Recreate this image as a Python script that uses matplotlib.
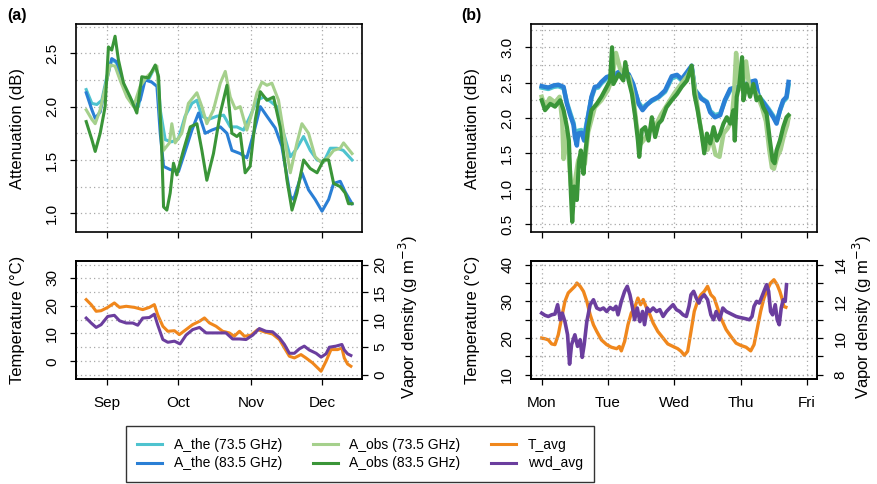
import matplotlib.pyplot as plt
from matplotlib.ticker import MultipleLocator, FixedLocator, FuncFormatter

plt.rcParams['font.family'] = ['Liberation Sans', 'DejaVu Sans']

# ---- panel (a): x = days since 1 Sep ----
month_ticks = [0, 30, 61, 91]
month_labels = ['Sep', 'Oct', 'Nov', 'Dec']

a_the735_day = [-8.7, -6.3, -4.2, -2.1, 0, 2.1, 4.2, 6.3, 8.5, 11.3, 13.4, 15.5, 17.6, 20.5, 21.6,
                22.6, 24.7, 27.5, 30.3, 33.1, 36, 38.1, 40.2, 43, 46.5, 49.4, 52.2, 55, 57.8, 60.6,
                63.5, 66.3, 69.1, 71.9, 74.8, 77.6, 80.4, 83.2, 86, 88.9, 91.7, 94.5, 97.3, 100, 103.7]
a_the735 = [2.16, 2.03, 2.02, 2.06, 2.28, 2.44, 2.41, 2.25, 2.13, 2.03, 2.0, 2.25, 2.25, 2.38, 2.30,
            1.97, 1.69, 1.67, 1.70, 1.91, 2.03, 2.06, 1.91, 1.88, 1.91, 1.92, 1.81, 1.81, 1.78, 1.91,
            2.06, 2.09, 2.05, 2.0, 1.75, 1.53, 1.61, 1.72, 1.59, 1.50, 1.48, 1.61, 1.61, 1.59, 1.50]

a_the835_day = [-8.7, -6.3, -4.9, -2.8, 0, 2.1, 4.2, 6.3, 9.2, 12, 14.1, 16.2, 19, 21.2, 22.6,
                24, 26.8, 30.3, 33.1, 36, 38.8, 41.6, 44.4, 48, 50.8, 52.9, 56.4, 59.2, 62.1, 64.9,
                67.7, 71.2, 74, 77.6, 79, 82.5, 85.3, 88.1, 91, 93.8, 95.9, 98.7, 100.8, 103.7]
a_the835 = [2.13, 1.97, 1.89, 1.95, 2.25, 2.45, 2.42, 2.23, 2.09, 2.0, 2.06, 2.25, 2.23, 2.19, 1.75,
            1.44, 1.41, 1.39, 1.58, 1.78, 1.94, 1.75, 1.78, 1.81, 1.75, 1.59, 1.56, 1.52, 1.75, 2.0,
            1.91, 1.80, 1.63, 1.16, 1.13, 1.38, 1.22, 1.13, 1.02, 1.13, 1.28, 1.30, 1.20, 1.09]

a_obs735_day = [-8.7, -6.3, -4.9, -2.8, 0, 1.4, 3.5, 5.6, 8.5, 11.3, 14.1, 16.9, 19.7, 21.2, 22.6,
                24, 25.4, 26.5, 27.5, 28.9, 31.7, 34.5, 38.1, 40.2, 42.3, 45.1, 48, 50.1, 52.2, 54.3,
                56.4, 59.2, 61.4, 63.5, 65.6, 67.7, 69.8, 72.6, 74.8, 77.6, 80.4, 82.5, 85.3, 88.1, 91,
                93.8, 95.9, 98.7, 100.1, 103.7]
a_obs735 = [1.97, 1.88, 1.84, 1.97, 2.25, 2.39, 2.38, 2.25, 2.09, 2.0, 2.19, 2.28, 2.34, 2.38, 1.91,
            1.59, 1.63, 1.66, 1.84, 1.66, 1.75, 2.03, 2.13, 2.0, 1.84, 1.97, 2.22, 2.33, 2.09, 1.98,
            2.0, 1.78, 1.94, 2.13, 2.23, 2.20, 2.22, 2.06, 1.75, 1.38, 1.66, 1.84, 1.75, 1.53, 1.47,
            1.53, 1.59, 1.61, 1.66, 1.56]

a_obs835_day = [-8.7, -6.3, -4.9, -2.8, -0.7, 0.7, 2.1, 3.5, 4.9, 7.1, 9.9, 12.7, 14.8, 17.6, 20.5,
                21.9, 23.3, 24, 25.4, 26.8, 28.2, 29.6, 32.4, 35.3, 38.1, 40.2, 42.3, 45.1, 48, 50.8,
                52.9, 55, 56.4, 58.5, 60.6, 62.8, 64.9, 67.7, 70.5, 73.3, 76.2, 78.3, 80.4, 83.2, 86,
                88.9, 91.7, 93.8, 95.9, 98.7, 100.8, 102.2, 103.7]
a_obs835 = [1.86, 1.69, 1.58, 1.75, 2.0, 2.56, 2.53, 2.66, 2.44, 2.22, 2.09, 1.94, 2.28, 2.27, 2.39,
            2.28, 1.56, 1.06, 1.03, 1.19, 1.47, 1.36, 1.59, 1.81, 1.84, 1.59, 1.31, 1.56, 1.94, 2.20,
            1.75, 1.72, 1.75, 1.38, 1.44, 1.88, 2.14, 2.06, 2.09, 1.81, 1.31, 1.03, 1.19, 1.50, 1.42,
            1.38, 1.50, 1.50, 1.28, 1.25, 1.19, 1.09, 1.09]

a_t_day = [-8.7, -6.6, -4.5, -2.4, 0.4, 3.2, 5.4, 8.2, 11.7, 15.2, 18, 20.1, 21.5, 23.7, 25.8,
           28.6, 30.7, 33.5, 36.3, 39.2, 41.3, 43.4, 46.2, 49, 51.8, 53.9, 56.1, 58.2, 61, 63.8,
           66.6, 70.1, 73, 75.1, 77.2, 79.3, 82.1, 84.2, 87, 90.6, 92.7, 94.8, 97.6, 99.4, 100.4,
           101.8, 103.2]
a_t_avg = [22.2, 20.4, 18.0, 18.2, 19.4, 21.0, 19.4, 19.8, 19.4, 18.6, 19.4, 20.4, 16.8, 12.6, 10.8,
           11.0, 9.6, 11.4, 13.2, 14.4, 15.6, 13.8, 12.6, 10.8, 10.2, 9.0, 10.8, 9.0, 9.4, 11.4,
           10.6, 9.8, 7.8, 4.8, 1.8, 1.2, 2.4, 1.2, -0.6, -3.6, 0.0, 4.2, 4.2, 4.8, 1.2,
           -1.0, -1.8]

a_wvd_day = [-8.7, -6.6, -4.5, -2.4, 0.4, 3.2, 5.4, 8.2, 11, 13.1, 15.2, 18, 20.1, 21.5, 23.7,
             25.8, 28.6, 31, 33.5, 36.3, 39.2, 42, 44.8, 47.6, 50.4, 53.2, 56.1, 58.9, 61.7, 64.5,
             67.3, 70.1, 73, 75.1, 77.2, 79.3, 81.4, 83.5, 85.6, 88.5, 90.6, 92.7, 94.1, 96.9, 99.4,
             100.4, 101.8, 103.2]
a_wvd_avg = [10.3, 9.4, 8.6, 9.1, 10.6, 10.8, 9.8, 9.4, 9.4, 9.0, 10.3, 10.4, 11.0, 9.1, 6.4,
             5.9, 6.1, 5.6, 7.2, 8.2, 8.6, 7.6, 7.6, 7.6, 7.6, 6.5, 6.5, 6.4, 7.2, 8.4,
             7.9, 7.8, 6.7, 5.5, 3.9, 3.9, 4.7, 5.2, 4.5, 3.9, 3.2, 3.8, 5.0, 5.2, 5.5,
             4.5, 3.8, 3.5]

# ---- panel (b): x = days since Monday 00:00 ----
weekday_ticks = [0, 1, 2, 3, 4]
weekday_labels = ['Mon', 'Tue', 'Wed', 'Thu', 'Fri']

b_the_day = [0, 0.1, 0.18, 0.25, 0.33, 0.38, 0.43, 0.48, 0.5, 0.53, 0.55, 0.6, 0.64, 0.69, 0.75,
             0.8, 0.85, 0.9, 0.98, 1.06, 1.16, 1.23, 1.31, 1.38, 1.46, 1.52, 1.58, 1.66, 1.76, 1.86,
             1.96, 2.04, 2.11, 2.19, 2.26, 2.31, 2.41, 2.49, 2.54, 2.61, 2.69, 2.76, 2.84, 2.91, 2.99,
             3.07, 3.14, 3.22, 3.27, 3.34, 3.42, 3.49, 3.54, 3.59, 3.64, 3.69, 3.72]
b_the835 = [2.45, 2.43, 2.46, 2.47, 2.44, 2.20, 2.04, 1.90, 1.73, 1.61, 1.78, 1.79, 1.68, 1.97, 2.30,
            2.44, 2.45, 2.51, 2.58, 2.60, 2.65, 2.60, 2.62, 2.48, 2.20, 2.11, 2.18, 2.25, 2.30, 2.39,
            2.59, 2.61, 2.55, 2.65, 2.74, 2.39, 2.27, 2.22, 2.08, 2.01, 2.04, 2.25, 2.41, 2.43, 2.45,
            2.48, 2.51, 2.53, 2.30, 2.22, 2.11, 2.01, 1.92, 2.11, 2.25, 2.30, 2.51]
b_the735 = [2.43, 2.41, 2.44, 2.45, 2.42, 2.22, 2.07, 1.93, 1.80, 1.70, 1.82, 1.83, 1.74, 1.99, 2.28,
            2.42, 2.43, 2.49, 2.56, 2.58, 2.62, 2.58, 2.60, 2.46, 2.22, 2.14, 2.19, 2.24, 2.29, 2.37,
            2.56, 2.59, 2.53, 2.63, 2.72, 2.40, 2.28, 2.23, 2.10, 2.04, 2.06, 2.24, 2.39, 2.41, 2.43,
            2.46, 2.49, 2.51, 2.31, 2.23, 2.13, 2.03, 1.95, 2.10, 2.23, 2.28, 2.46]

b_obs835_day = [0, 0.05, 0.13, 0.2, 0.28, 0.33, 0.38, 0.41, 0.44, 0.46, 0.49, 0.53, 0.56, 0.59, 0.63,
                0.65, 0.7, 0.75, 0.83, 0.9, 0.98, 1.03, 1.06, 1.08, 1.16, 1.23, 1.26, 1.31, 1.36, 1.41,
                1.45, 1.47, 1.51, 1.56, 1.61, 1.66, 1.71, 1.76, 1.81, 1.88, 1.96, 2.04, 2.11, 2.19, 2.26,
                2.3, 2.35, 2.41, 2.45, 2.49, 2.54, 2.59, 2.64, 2.69, 2.74, 2.79, 2.84, 2.89, 2.91, 2.94,
                2.98, 3.02, 3.04, 3.09, 3.14, 3.19, 3.24, 3.29, 3.34, 3.39, 3.44, 3.48, 3.51, 3.54, 3.59,
                3.64, 3.69, 3.72]
b_obs835 = [2.25, 2.11, 2.20, 2.16, 2.25, 2.11, 1.87, 1.68, 0.93, 0.53, 1.03, 0.84, 1.36, 1.54, 1.21,
            1.45, 1.87, 2.11, 2.20, 2.30, 2.44, 2.53, 3.0, 2.48, 2.62, 2.53, 2.79, 2.53, 2.34, 2.01,
            1.68, 1.45, 1.83, 1.87, 1.68, 2.01, 1.73, 1.92, 1.97, 2.15, 2.25, 2.34, 2.44, 2.53, 2.74,
            2.34, 2.11, 1.78, 1.50, 1.78, 1.64, 1.87, 1.68, 1.78, 1.92, 2.01, 1.92, 2.11, 1.68, 2.30,
            2.48, 2.86, 2.25, 2.48, 2.30, 2.48, 2.25, 2.30, 2.15, 2.06, 1.68, 1.40, 1.36, 1.54, 1.68,
            1.87, 2.01, 2.04]

b_obs735_day = [0, 0.05, 0.12, 0.2, 0.27, 0.31, 0.33, 0.36, 0.4, 0.44, 0.46, 0.5, 0.55, 0.6, 0.65,
                0.7, 0.8, 0.9, 1.0, 1.06, 1.12, 1.18, 1.25, 1.32, 1.38, 1.43, 1.48, 1.55, 1.6, 1.66,
                1.72, 1.8, 1.9, 2.0, 2.1, 2.2, 2.26, 2.32, 2.38, 2.44, 2.5, 2.56, 2.62, 2.68, 2.74,
                2.8, 2.86, 2.9, 2.93, 2.97, 3.02, 3.08, 3.14, 3.2, 3.26, 3.32, 3.38, 3.43, 3.47, 3.5,
                3.55, 3.6, 3.65, 3.7, 3.72]
b_obs735 = [2.30, 2.15, 2.28, 2.22, 2.30, 1.95, 1.42, 1.80, 1.55, 1.05, 0.95, 1.10, 1.40, 1.50, 1.35,
            1.80, 2.15, 2.25, 2.40, 2.55, 2.92, 2.70, 2.62, 2.58, 2.30, 1.90, 1.62, 1.70, 1.78, 1.85,
            1.90, 2.05, 2.20, 2.35, 2.48, 2.60, 2.70, 2.35, 1.95, 1.62, 1.55, 1.72, 1.48, 1.45, 1.78,
            1.85, 1.95, 2.35, 2.92, 2.50, 2.40, 2.80, 2.35, 2.40, 2.30, 2.15, 1.95, 1.55, 1.30, 1.28,
            1.45, 1.55, 1.75, 1.90, 2.0]

b_t_day = [0, 0.05, 0.1, 0.15, 0.2, 0.25, 0.3, 0.35, 0.4, 0.45, 0.5, 0.53, 0.58, 0.63, 0.68,
           0.73, 0.78, 0.83, 0.9, 0.98, 1.05, 1.13, 1.17, 1.2, 1.25, 1.3, 1.35, 1.4, 1.45, 1.49,
           1.53, 1.58, 1.63, 1.68, 1.75, 1.83, 1.9, 1.98, 2.05, 2.1, 2.15, 2.2, 2.25, 2.3, 2.35,
           2.4, 2.45, 2.5, 2.55, 2.6, 2.65, 2.7, 2.78, 2.85, 2.93, 3.0, 3.08, 3.15, 3.2, 3.25,
           3.3, 3.35, 3.4, 3.45, 3.5, 3.55, 3.59, 3.62, 3.65, 3.68]
b_t_avg = [20.0, 19.8, 19.5, 18.4, 18.2, 20.9, 25.5, 30.0, 32.3, 33.2, 34.1, 35.0, 34.1, 32.7, 30.0,
           26.4, 23.6, 21.8, 19.5, 18.2, 17.5, 17.1, 17.7, 16.5, 19.1, 23.6, 26.8, 28.2, 30.9, 29.1,
           30.5, 28.2, 26.4, 24.1, 21.8, 20.0, 18.4, 17.7, 17.1, 16.4, 15.3, 16.4, 21.8, 27.3, 30.0,
           31.8, 32.7, 34.1, 31.8, 30.9, 28.2, 25.5, 22.3, 20.5, 18.6, 18.0, 17.5, 16.5, 18.2, 22.7,
           27.3, 30.9, 33.2, 35.0, 35.9, 34.5, 32.7, 30.9, 28.6, 28.4]

b_wvd_day = [0, 0.05, 0.1, 0.15, 0.2, 0.24, 0.28, 0.31, 0.35, 0.39, 0.42, 0.45, 0.5, 0.54, 0.58,
             0.61, 0.64, 0.68, 0.73, 0.78, 0.83, 0.88, 0.93, 0.98, 1.03, 1.08, 1.12, 1.15, 1.2, 1.25,
             1.29, 1.33, 1.37, 1.4, 1.44, 1.48, 1.52, 1.55, 1.59, 1.63, 1.68, 1.73, 1.78, 1.83, 1.88,
             1.93, 1.98, 2.03, 2.08, 2.13, 2.18, 2.22, 2.25, 2.29, 2.33, 2.37, 2.4, 2.45, 2.5, 2.55,
             2.59, 2.63, 2.68, 2.73, 2.78, 2.83, 2.88, 2.93, 2.98, 3.03, 3.08, 3.13, 3.17, 3.2, 3.24,
             3.28, 3.32, 3.35, 3.39, 3.42, 3.45, 3.48, 3.52, 3.55, 3.58, 3.61, 3.64, 3.67, 3.69]
b_wvd_avg = [11.36, 11.24, 11.18, 11.27, 11.31, 11.82, 11.0, 11.36, 10.9, 10.18, 8.58, 9.64, 10.18, 9.55, 9.91,
             8.95, 9.64, 10.9, 11.82, 12.09, 11.64, 11.55, 11.64, 11.45, 11.67, 11.55, 11.73, 11.27, 12.0, 12.55,
             12.82, 12.36, 11.64, 11.0, 11.64, 10.9, 11.45, 10.73, 11.64, 11.45, 11.64, 11.45, 11.55, 11.18, 11.45,
             11.64, 11.82, 11.55, 11.45, 11.27, 11.18, 11.73, 12.36, 12.55, 12.18, 11.91, 12.18, 12.36, 12.09, 11.27,
             11.0, 11.45, 11.0, 11.64, 11.45, 11.36, 11.27, 11.18, 11.13, 11.09, 11.05, 11.0, 11.18, 11.73, 12.0,
             11.91, 12.27, 12.55, 12.91, 12.55, 11.45, 11.27, 11.82, 11.0, 10.73, 11.64, 12.09, 12.0, 12.91]

c_the735 = '#4ec3cf'
c_the835 = '#2a7fd5'
c_obs735 = '#a5d08c'
c_obs835 = '#3a9538'
c_t = '#f0871c'
c_wvd = '#6b3e9e'

grid_kw = dict(linestyle=(0, (1, 2.5)), color='#a8a8a8', linewidth=0.9)


def style_axes(ax):
    for s in ax.spines.values():
        s.set_linewidth(1.2)
    ax.tick_params(direction='out', length=4, width=0.9, labelsize=11, pad=8)


fig = plt.figure(figsize=(8.78, 4.84), dpi=100)

ax_at = fig.add_axes([0.0866, 0.5207, 0.3257, 0.4298])
ax_ab = fig.add_axes([0.0866, 0.2169, 0.3257, 0.2438])
ax_bt = fig.add_axes([0.6048, 0.5207, 0.3257, 0.4298])
ax_bb = fig.add_axes([0.6048, 0.2169, 0.3257, 0.2438])

# (a) attenuation
ax_at.plot(a_the735_day, a_the735, color=c_the735, lw=2.2)
ax_at.plot(a_the835_day, a_the835, color=c_the835, lw=2.2)
ax_at.plot(a_obs735_day, a_obs735, color=c_obs735, lw=2.2)
ax_at.plot(a_obs835_day, a_obs835, color=c_obs835, lw=2.2)
ax_at.set_xlim(-13.0, 107.9)
ax_at.set_ylim(0.825, 2.775)
ax_at.yaxis.set_major_locator(MultipleLocator(0.5))
ax_at.yaxis.set_minor_locator(MultipleLocator(0.25))
ax_at.xaxis.set_major_locator(FixedLocator(month_ticks))
ax_at.set_xticklabels([])

# (b) attenuation
ax_bt.plot(b_the_day, b_the735, color=c_the735, lw=3.2)
ax_bt.plot(b_the_day, b_the835, color=c_the835, lw=3.2)
ax_bt.plot(b_obs735_day, b_obs735, color=c_obs735, lw=3.2)
ax_bt.plot(b_obs835_day, b_obs835, color=c_obs835, lw=3.0)
ax_bt.set_xlim(-0.161, 4.149)
ax_bt.set_ylim(0.387, 3.33)
ax_bt.yaxis.set_major_locator(MultipleLocator(0.5))
ax_bt.yaxis.set_minor_locator(MultipleLocator(0.25))
ax_bt.xaxis.set_major_locator(FixedLocator(weekday_ticks))
ax_bt.set_xticklabels([])

for ax in (ax_at, ax_bt):
    style_axes(ax)
    ax.tick_params(which='minor', length=0)
    ax.grid(True, which='both', **grid_kw)
    ax.set_axisbelow(True)

# (a) temperature / vapour
ax_ab.plot(a_t_day, a_t_avg, color=c_t, lw=2.2)
ax_ab.set_xlim(-13.0, 107.9)
ax_ab.set_ylim(-6.4, 36.1)
ax_ab.yaxis.set_major_locator(FixedLocator([0, 10, 20, 30]))
ax_ab.xaxis.set_major_locator(FixedLocator(month_ticks))
ax_ab.set_xticklabels(month_labels)
tw_a = ax_ab.twinx()
tw_a.plot(a_wvd_day, a_wvd_avg, color=c_wvd, lw=2.2)
tw_a.set_ylim(-0.78, 20.67)
tw_a.yaxis.set_major_locator(FixedLocator([0, 5, 10, 15, 20]))

# (b) temperature / vapour
ax_bb.plot(b_t_day, b_t_avg, color=c_t, lw=2.4)
ax_bb.set_xlim(-0.161, 4.149)
ax_bb.set_ylim(8.83, 41.0)
ax_bb.yaxis.set_major_locator(MultipleLocator(5))
ax_bb.yaxis.set_major_formatter(FuncFormatter(lambda v, p: f'{v:.0f}' if round(v) % 10 == 0 else ''))
ax_bb.xaxis.set_major_locator(FixedLocator(weekday_ticks))
ax_bb.set_xticklabels(weekday_labels)
tw_b = ax_bb.twinx()
tw_b.plot(b_wvd_day, b_wvd_avg, color=c_wvd, lw=2.6)
tw_b.set_ylim(7.77, 14.2)
tw_b.yaxis.set_major_locator(MultipleLocator(1))
tw_b.yaxis.set_major_formatter(FuncFormatter(lambda v, p: f'{v:.0f}' if round(v) % 2 == 0 else ''))

for ax in (ax_ab, ax_bb, tw_a, tw_b):
    style_axes(ax)
for ax in (ax_ab, ax_bb):
    ax.grid(True, **grid_kw)
for ax in (tw_a, tw_b):
    ax.grid(True, axis='y', **grid_kw)
tw_a.tick_params(axis='y', pad=4)

for ax in (ax_at, ax_ab, ax_bt, ax_bb, tw_a, tw_b):
    plt.setp(ax.get_yticklabels(), rotation=90, va='center')

# labels
lab = dict(fontsize=12, rotation=90, ha='center', va='center')
fig.text(0.0205, 0.7355, 'Attenuation (dB)', **lab)
fig.text(0.0205, 0.339, 'Temperature (°C)', **lab)
fig.text(0.4647, 0.345, 'Vapor density (g m$^{-3}$)', **lab)
fig.text(0.5387, 0.7355, 'Attenuation (dB)', **lab)
fig.text(0.5387, 0.339, 'Temperature (°C)', **lab)
fig.text(0.982, 0.345, 'Vapor density (g m$^{-3}$)', **lab)
fig.text(0.008, 0.967, '(a)', fontsize=11.5, fontweight='bold', ha='left', va='center')
fig.text(0.525, 0.967, '(b)', fontsize=11.5, fontweight='bold', ha='left', va='center')

# legend
names = ['A_the (73.5 GHz)', 'A_the (83.5 GHz)', 'A_obs (73.5 GHz)', 'A_obs (83.5 GHz)', 'T_avg', 'wvd_avg']
colors = [c_the735, c_the835, c_obs735, c_obs835, c_t, c_wvd]
handles = [plt.Line2D([], [], color=c, lw=2.2) for c in colors]
leg = fig.legend(handles, names, ncol=3, loc='center', bbox_to_anchor=(0.41, 0.062),
                 fontsize=10, frameon=True, fancybox=False, edgecolor='black',
                 handlelength=1.8, handletextpad=0.85, columnspacing=2.2,
                 labelspacing=0.35, borderpad=0.8)
leg.get_frame().set_linewidth(1.0)

fig.savefig('out.png', dpi=100)
